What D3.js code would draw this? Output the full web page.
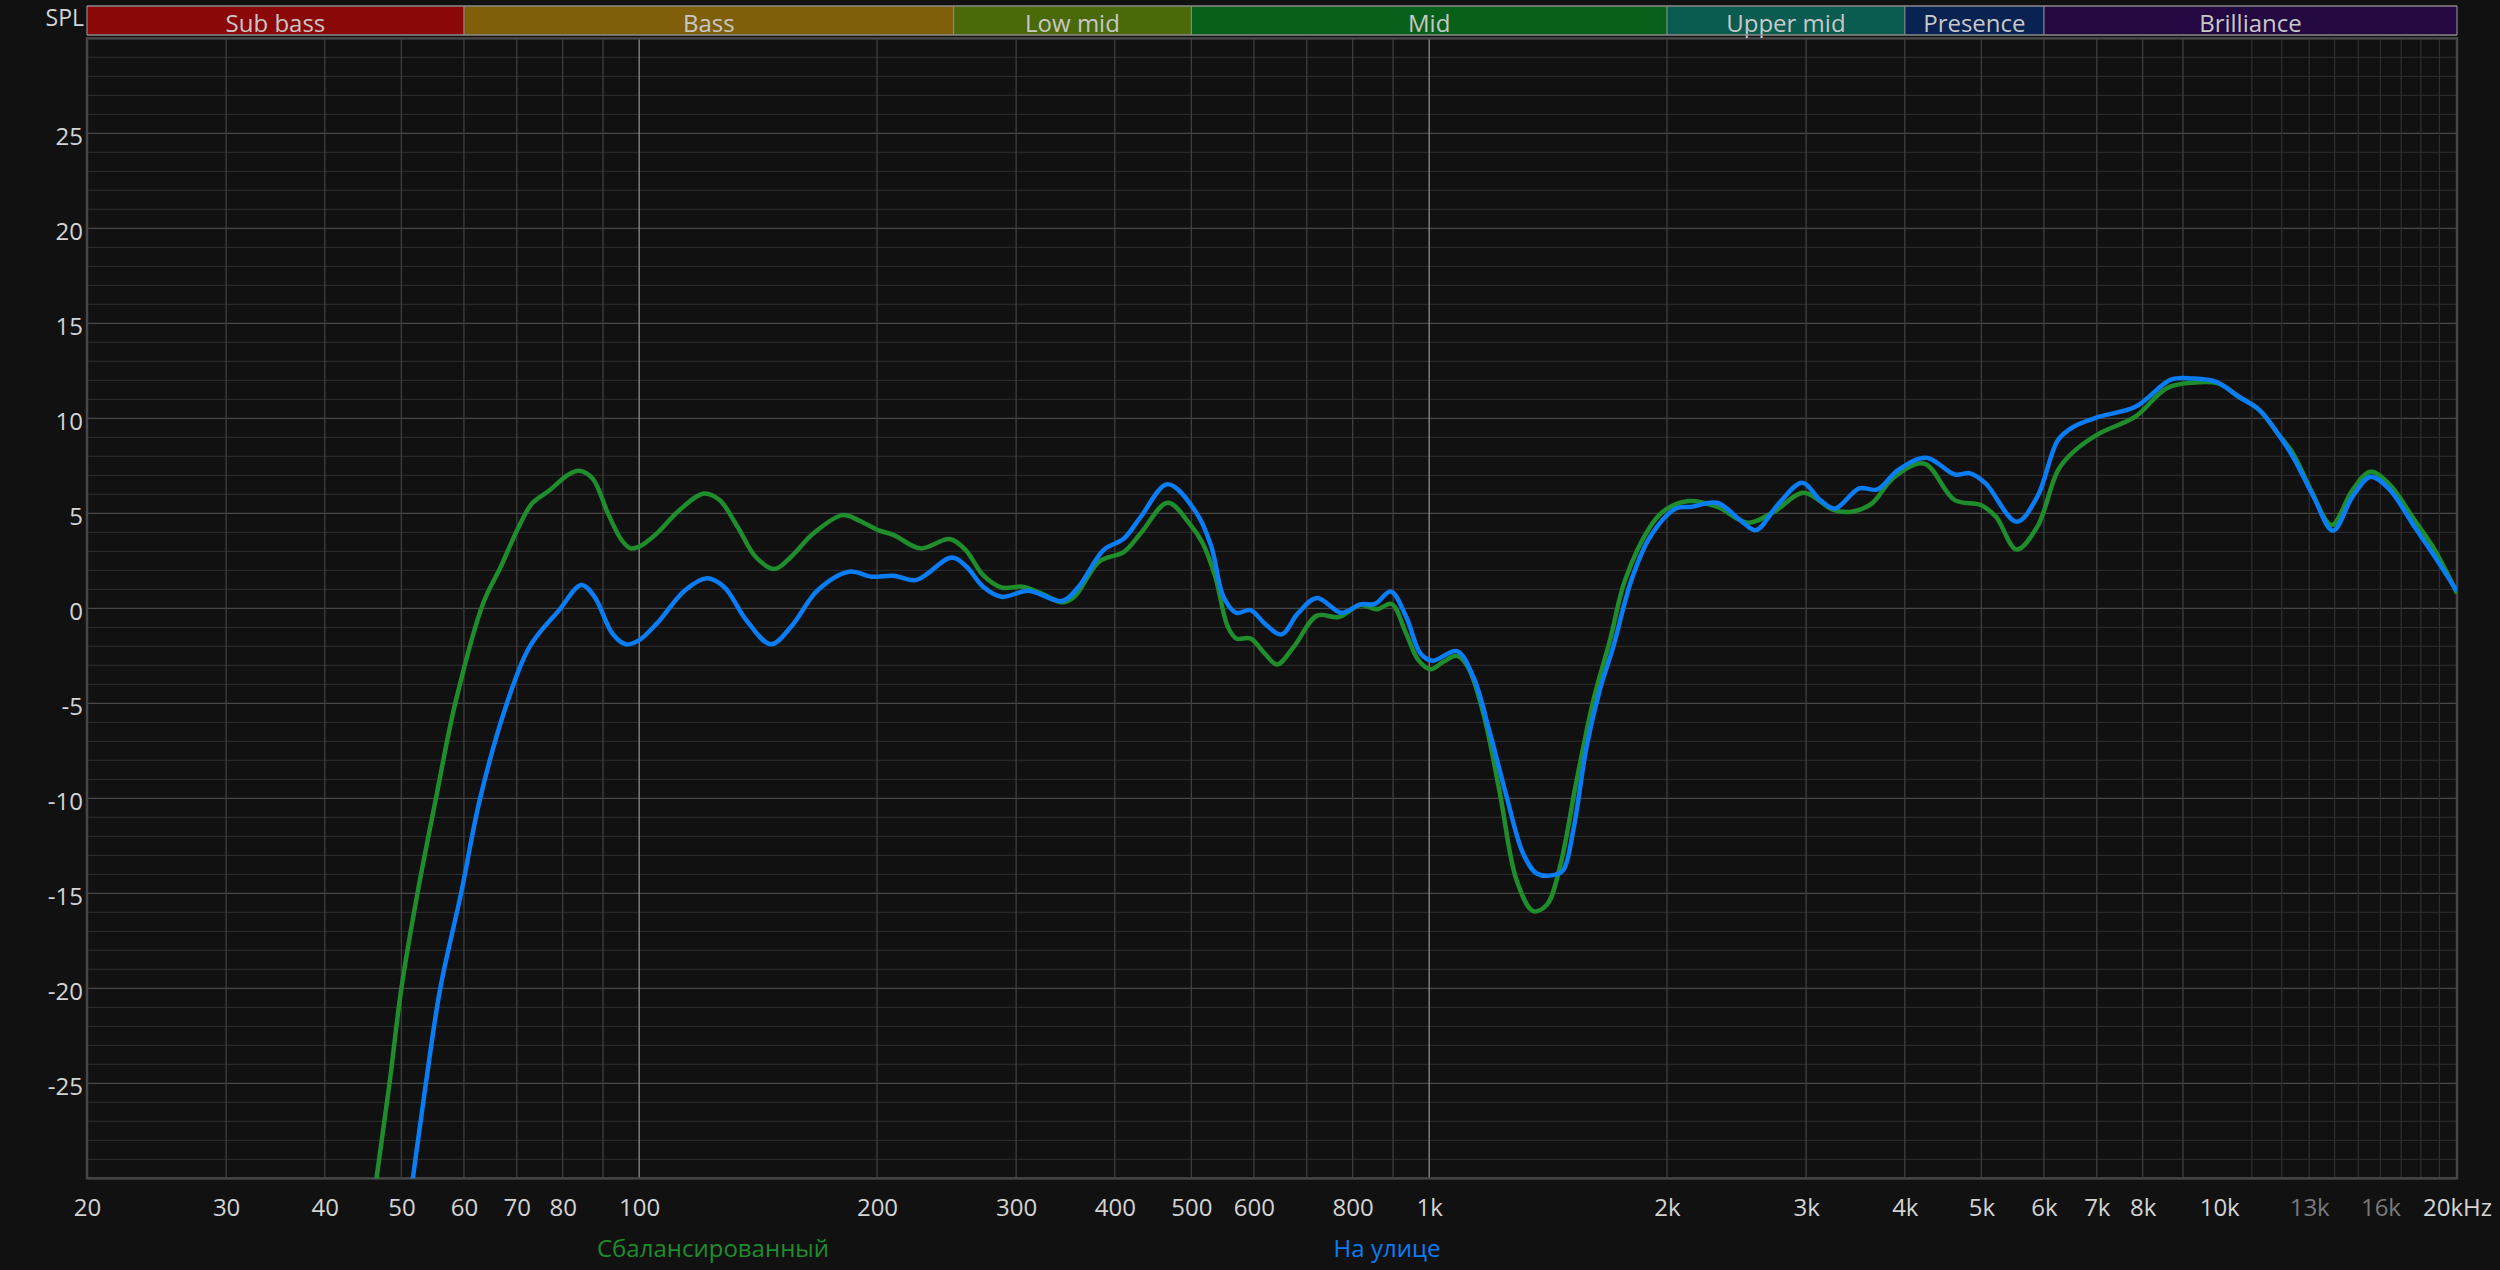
<!DOCTYPE html>
<html>
<head>
<meta charset="utf-8">
<script src="https://cdn.jsdelivr.net/npm/d3@7"></script>
<style>
  html, body { margin: 0; padding: 0; background: #111111; }
  svg { display: block; }
  text { font-family: "Open Sans", "Noto Sans", sans-serif; }
</style>
</head>
<body>
<svg id="chart" width="2500" height="1270"></svg>
<script>
// ---------- DATA ----------
const bandNames  = ["Sub bass", "Bass", "Low mid", "Mid", "Upper mid", "Presence", "Brilliance"];
const bandEdges  = [20, 60, 250, 500, 2000, 4000, 6000, 20000];
const bandColors = ["#8a0808", "#7f5f09", "#4a6909", "#08611a", "#0a5b50", "#082252", "#230842"];

const xTickValues = [20, 30, 40, 50, 60, 70, 80, 100, 200, 300, 400, 500, 600, 800, 1000, 2000, 3000, 4000, 5000, 6000, 7000, 8000, 10000, 13000, 16000, 20000];
const xTickLabels = ["20", "30", "40", "50", "60", "70", "80", "100", "200", "300", "400", "500", "600", "800", "1k", "2k", "3k", "4k", "5k", "6k", "7k", "8k", "10k", "13k", "16k", "20kHz"];
const xDimLabels  = ["13k", "16k"];
const yTickValues = [25, 20, 15, 10, 5, 0, -5, -10, -15, -20, -25];

const seriesNames = ["Сбалансированный", "На улице"];
const seriesColors = ["#1f8d2b", "#0a7df5"];

const greenFreq = [44.8, 46.5, 48.3, 50, 52.4, 55.3, 58.5, 63.5, 66.8, 70.4, 73.2, 77.1, 81.2, 83.9, 87.3, 91.3, 95, 97.5, 100, 105.3, 112.5, 120.8, 126.4, 133.2, 140.4, 148.2, 155.7, 166.2, 180.8, 189.3, 200.6, 210, 227, 247, 259, 272.5, 287.6, 305.6, 322.8, 343, 355.6, 382, 410.8, 431.4, 466.7, 498.8, 517, 536, 556, 569.7, 594, 619, 642, 674, 721, 768, 818.5, 859, 896, 935, 969, 1004, 1042, 1085, 1120, 1171, 1229, 1290, 1354, 1409, 1464, 1537, 1614, 1694, 1770, 1904, 1990, 2131, 2314, 2533, 2732, 2978, 3248, 3424, 3636, 3862, 4227, 4627, 4990, 5218, 5541, 5886, 6252, 6542, 7054, 7832, 8572, 9246, 9972, 10590, 11246, 11860, 12400, 13066, 13880, 14748, 15547, 16384, 17670, 18750, 20000];
const greenDb   = [-35, -30, -25, -20, -15, -10, -5, 0.3, 2.19, 4.3, 5.53, 6.23, 7.02, 7.25, 6.84, 5.0, 3.6, 3.16, 3.25, 3.95, 5.18, 6.05, 5.7, 4.3, 2.72, 2.07, 2.72, 3.95, 4.91, 4.65, 4.12, 3.86, 3.16, 3.65, 3.07, 1.75, 1.1, 1.14, 0.79, 0.32, 0.61, 2.46, 2.98, 3.95, 5.56, 4.39, 3.42, 1.67, -0.96, -1.58, -1.58, -2.37, -2.95, -2.02, -0.38, -0.45, 0.18, -0.04, 0.23, -1.32, -2.72, -3.2, -2.81, -2.5, -3.1, -5.53, -9.74, -14.3, -15.93, -15.6, -13.6, -9.04, -4.82, -1.67, 1.49, 4.3, 5.18, 5.65, 5.35, 4.51, 5.09, 6.09, 5.18, 5.09, 5.53, 6.84, 7.63, 5.7, 5.44, 4.82, 3.1, 4.3, 7.28, 8.25, 9.21, 10.09, 11.58, 11.88, 11.84, 11.14, 10.44, 9.21, 8.16, 6.23, 4.39, 6.23, 7.19, 6.58, 4.65, 3.07, 0.79];

const blueFreq = [49.8, 51.7, 53.7, 56, 59.5, 62.9, 68, 72.7, 79.2, 84.5, 87.8, 92.5, 96.2, 100, 105.3, 114.3, 121.6, 128, 136.6, 146.8, 155.7, 168.3, 184.4, 196.8, 210, 224, 248.8, 259.7, 272.5, 287.6, 311, 343, 360, 387, 410.8, 431.4, 466.7, 508, 530, 549, 569.7, 594, 619, 650, 682, 721, 774, 818, 854, 894, 935, 975, 1010, 1084, 1137, 1194, 1253, 1315, 1368, 1436, 1478, 1522, 1582, 1644, 1710, 1803, 1904, 2052, 2147, 2314, 2476, 2590, 2772, 2966, 3126, 3264, 3502, 3692, 3922, 4258, 4627, 4838, 5062, 5541, 5886, 6252, 6542, 7054, 7832, 8700, 9246, 9898, 10590, 11246, 11860, 12400, 13166, 13932, 14748, 15547, 16384, 17670, 18750, 20000];
const blueDb   = [-35, -30, -25, -20, -15, -10, -5, -2.0, -0.09, 1.23, 0.61, -1.32, -1.89, -1.67, -0.79, 0.96, 1.58, 1.14, -0.61, -1.89, -0.96, 0.96, 1.93, 1.67, 1.72, 1.49, 2.68, 2.19, 1.14, 0.61, 0.93, 0.39, 1.14, 3.07, 3.68, 4.82, 6.53, 5.0, 3.25, 0.61, -0.23, -0.09, -0.79, -1.37, -0.26, 0.55, -0.23, 0.21, 0.24, 0.89, -0.44, -2.37, -2.75, -2.25, -3.6, -6.58, -9.9, -12.9, -13.95, -14.04, -13.77, -11.67, -7.28, -4.3, -2.02, 1.49, 3.77, 5.26, 5.35, 5.56, 4.65, 4.12, 5.53, 6.61, 5.7, 5.26, 6.32, 6.26, 7.28, 7.93, 7.05, 7.11, 6.58, 4.56, 5.88, 8.86, 9.56, 10.09, 10.61, 12.05, 12.1, 11.93, 11.14, 10.44, 9.21, 7.98, 5.88, 4.09, 5.88, 6.93, 6.32, 4.3, 2.72, 0.9];

// ---------- LAYOUT ----------
const L = 87, R = 2457, T = 38.4, B = 1178.4;
const svg = d3.select("#chart");

const x = d3.scaleLog().domain([20, 20000]).range([L, R]);
const y = d3.scaleLinear().domain([-30, 30]).range([B, T]);

// background
svg.append("rect").attr("width", 2500).attr("height", 1270).attr("fill", "#111111");

// ---------- GRID ----------
const grid = svg.append("g");
// minor horizontal (1 dB)
d3.range(-29, 30).filter(v => v % 5 !== 0).forEach(v => {
  grid.append("line").attr("x1", L).attr("x2", R).attr("y1", y(v)).attr("y2", y(v))
    .attr("stroke", "#282828").attr("stroke-width", 1.2);
});
// major horizontal (5 dB)
d3.range(-25, 30, 5).forEach(v => {
  grid.append("line").attr("x1", L).attr("x2", R).attr("y1", y(v)).attr("y2", y(v))
    .attr("stroke", "#474747").attr("stroke-width", 1.3);
});
// vertical lines
const vLines = [];
[10, 100, 1000].forEach(dec => { for (let k = 1; k <= 9; k++) vLines.push(dec * k); });
for (let k = 11; k <= 19; k++) vLines.push(1000 * k);
vLines.filter(f => f > 20 && f < 20000).forEach(f => {
  let col = "#3e3e3e";
  if (f === 100 || f === 1000 || f === 10000) col = "#8a8a8a";
  else if (f > 10000) col = "#2e2e2e";
  grid.append("line").attr("x1", x(f)).attr("x2", x(f)).attr("y1", T).attr("y2", B)
    .attr("stroke", col).attr("stroke-width", 1.3);
});

// plot border
svg.append("rect").attr("x", L).attr("y", T).attr("width", R - L).attr("height", B - T)
  .attr("fill", "none").attr("stroke", "#474747").attr("stroke-width", 2.5);

// ---------- BANDS ----------
const bandTop = 6, bandBot = 35;
const bands = svg.append("g");
bandNames.forEach((name, i) => {
  const x0 = x(bandEdges[i]), x1 = x(bandEdges[i + 1]);
  bands.append("rect").attr("x", x0).attr("y", bandTop).attr("width", x1 - x0).attr("height", bandBot - bandTop)
    .attr("fill", bandColors[i]);
  bands.append("text").attr("x", (x0 + x1) / 2).attr("y", 32).attr("text-anchor", "middle")
    .attr("font-size", 24).attr("fill", "#c8c8c8").text(name);
});
bands.append("line").attr("x1", L).attr("x2", R).attr("y1", bandTop).attr("y2", bandTop).attr("stroke", "#8a8a8a").attr("stroke-width", 1.5);
bands.append("line").attr("x1", L).attr("x2", R).attr("y1", bandBot).attr("y2", bandBot).attr("stroke", "#8a8a8a").attr("stroke-width", 1.5);
bandEdges.forEach(f => {
  bands.append("line").attr("x1", x(f)).attr("x2", x(f)).attr("y1", bandTop).attr("y2", bandBot)
    .attr("stroke", "#8a8a8a").attr("stroke-width", 1.2);
});

// ---------- AXES ----------
const xAxis = d3.axisBottom(x).tickValues(xTickValues)
  .tickFormat((d, i) => xTickLabels[i]).tickSize(0).tickPadding(0);
const gx = svg.append("g").attr("transform", `translate(0, ${B})`).call(xAxis);
gx.select(".domain").remove();
gx.selectAll("text").attr("font-size", 24).attr("dy", 0).attr("y", 38)
  .attr("font-family", "'Open Sans', 'Noto Sans', sans-serif")
  .attr("fill", (d, i) => xDimLabels.includes(xTickLabels[i]) ? "#7a7a7a" : "#d4d4d4");

const yAxis = d3.axisLeft(y).tickValues(yTickValues).tickFormat(d => String(d)).tickSize(0).tickPadding(0);
const gy = svg.append("g").attr("transform", `translate(${L - 4}, 0)`).call(yAxis);
gy.select(".domain").remove();
gy.selectAll("text").attr("font-size", 24).attr("dy", "0.45em")
  .attr("font-family", "'Open Sans', 'Noto Sans', sans-serif").attr("fill", "#d4d4d4");

svg.append("text").attr("x", 84).attr("y", 26).attr("text-anchor", "end")
  .attr("font-size", 23).attr("fill", "#d4d4d4").text("SPL");

// ---------- CURVES ----------
svg.append("clipPath").attr("id", "plotClip").append("rect")
  .attr("x", L).attr("y", T).attr("width", R - L).attr("height", B - T);

const line = d3.line().x(d => x(d[0])).y(d => y(d[1])).curve(d3.curveCatmullRom.alpha(0.5));
const curves = svg.append("g").attr("clip-path", "url(#plotClip)");
const greenData = greenFreq.map((f, i) => [f, greenDb[i]]);
const blueData = blueFreq.map((f, i) => [f, blueDb[i]]);
curves.append("path").datum(greenData).attr("d", line).attr("fill", "none")
  .attr("stroke", seriesColors[0]).attr("stroke-width", 4.5).attr("stroke-linejoin", "round");
curves.append("path").datum(blueData).attr("d", line).attr("fill", "none")
  .attr("stroke", seriesColors[1]).attr("stroke-width", 4.5).attr("stroke-linejoin", "round");

// ---------- LEGEND ----------
const legendX = [713, 1387];
seriesNames.forEach((n, i) => {
  svg.append("text").attr("x", legendX[i]).attr("y", 1257).attr("text-anchor", "middle")
    .attr("font-size", 24).attr("fill", seriesColors[i]).text(n);
});
</script>
</body>
</html>
